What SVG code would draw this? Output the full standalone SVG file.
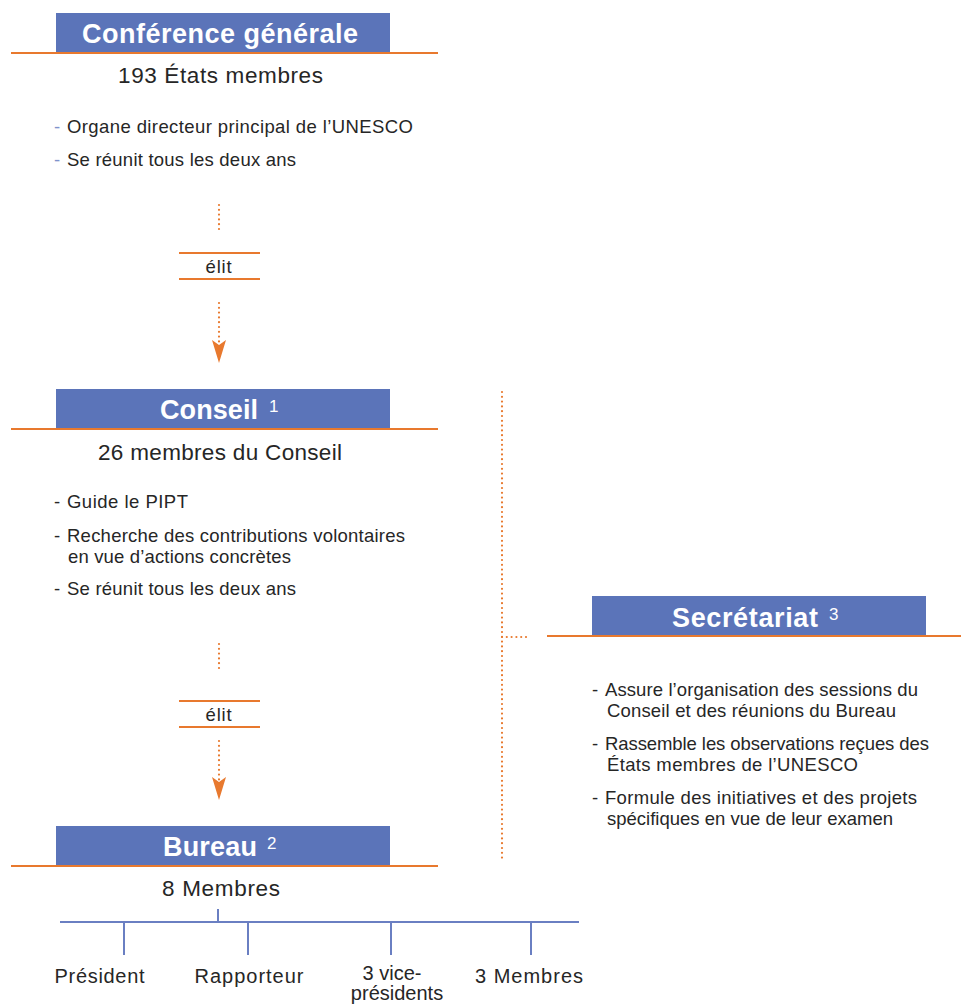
<svg xmlns="http://www.w3.org/2000/svg" width="961" height="1006" viewBox="0 0 961 1006">
<defs>
<style>
text{font-family:"Liberation Sans",Arial,sans-serif;fill:#262626}
.title{font-size:27px;font-weight:bold;fill:#fff}
.sup{font-size:17px;fill:#fff}
.sub{font-size:22.5px}
.body{font-size:18.5px}
.lbl{font-size:20px}
.dashb{font-size:18.5px;fill:#7f93cc}
.box{fill:#5B74B9}
.ol{stroke:#E8792E;stroke-width:2.2;fill:none}
.dot{stroke:#E8792E;stroke-width:2.2;stroke-dasharray:0 4.8;stroke-linecap:round;fill:none}
.bl{stroke:#6A7FC2;stroke-width:2;fill:none}
.ah{fill:#E8792E}
</style>
</defs>
<rect width="961" height="1006" fill="#fff"/>

<g id="conference">
<rect class="box" x="56" y="13" width="334" height="39"/>
<line class="ol" x1="11" y1="53" x2="438" y2="53"/>
<text class="title" x="82" y="43" textLength="276" lengthAdjust="spacing">Conférence générale</text>
<text class="sub" x="118" y="83" textLength="205" lengthAdjust="spacing">193 États membres</text>
<text class="dashb" x="54" y="133">-</text>
<text class="body" x="67" y="133" textLength="346" lengthAdjust="spacing">Organe directeur principal de l’UNESCO</text>
<text class="dashb" x="54" y="166">-</text>
<text class="body" x="67" y="166" textLength="229" lengthAdjust="spacing">Se réunit tous les deux ans</text>
</g>

<g id="conseil">
<rect class="box" x="56" y="389" width="334" height="39"/>
<line class="ol" x1="11" y1="429" x2="438" y2="429"/>
<text class="title" x="160" y="419" textLength="98" lengthAdjust="spacing">Conseil</text>
<text class="sup" x="269" y="412">1</text>
<text class="sub" x="98" y="460" textLength="244" lengthAdjust="spacing">26 membres du Conseil</text>
<text class="body" x="54" y="508">-</text>
<text class="body" x="67" y="508" textLength="121" lengthAdjust="spacing">Guide le PIPT</text>
<text class="body" x="54" y="542">-</text>
<text class="body" x="67" y="542" textLength="338" lengthAdjust="spacing">Recherche des contributions volontaires</text>
<text class="body" x="68" y="563" textLength="223" lengthAdjust="spacing">en vue d’actions concrètes</text>
<text class="body" x="54" y="595">-</text>
<text class="body" x="67" y="595" textLength="229" lengthAdjust="spacing">Se réunit tous les deux ans</text>
</g>

<g id="bureau">
<rect class="box" x="56" y="826" width="334" height="39"/>
<line class="ol" x1="11" y1="866" x2="438" y2="866"/>
<text class="title" x="163" y="856" textLength="94" lengthAdjust="spacing">Bureau</text>
<text class="sup" x="267" y="849">2</text>
<text class="sub" x="162" y="896" textLength="118" lengthAdjust="spacing">8 Membres</text>
</g>

<g id="bureau-members">
<line class="bl" x1="60" y1="922" x2="579" y2="922"/>
<line class="bl" x1="218" y1="909" x2="218" y2="922"/>
<line class="bl" x1="124" y1="922" x2="124" y2="955"/>
<line class="bl" x1="248" y1="922" x2="248" y2="955"/>
<line class="bl" x1="391" y1="922" x2="391" y2="955"/>
<line class="bl" x1="531" y1="922" x2="531" y2="955"/>
<text class="lbl" x="99.5" y="983" text-anchor="middle" textLength="90" lengthAdjust="spacing">Président</text>
<text class="lbl" x="249" y="983" text-anchor="middle" textLength="109" lengthAdjust="spacing">Rapporteur</text>
<text class="lbl" x="392" y="980" text-anchor="middle" font-size="19">3 vice-</text>
<text class="lbl" x="397" y="1000" text-anchor="middle" font-size="19">présidents</text>
<text class="lbl" x="529" y="983" text-anchor="middle" textLength="108" lengthAdjust="spacing">3 Membres</text>
</g>

<g id="secretariat">
<rect class="box" x="592" y="596" width="334" height="39"/>
<line class="ol" x1="547" y1="636" x2="961" y2="636"/>
<text class="title" x="672" y="627" textLength="146" lengthAdjust="spacing">Secrétariat</text>
<text class="sup" x="829" y="620">3</text>
<text class="body" x="592" y="696">-</text>
<text class="body" x="605" y="696" textLength="313" lengthAdjust="spacing">Assure l’organisation des sessions du</text>
<text class="body" x="607" y="717" textLength="289" lengthAdjust="spacing">Conseil et des réunions du Bureau</text>
<text class="body" x="592" y="750">-</text>
<text class="body" x="605" y="750" textLength="324" lengthAdjust="spacing">Rassemble les observations reçues des</text>
<text class="body" x="607" y="771" textLength="251" lengthAdjust="spacing">États membres de l’UNESCO</text>
<text class="body" x="592" y="804">-</text>
<text class="body" x="605" y="804" textLength="312" lengthAdjust="spacing">Formule des initiatives et des projets</text>
<text class="body" x="607" y="825" textLength="286" lengthAdjust="spacing">spécifiques en vue de leur examen</text>
</g>

<g id="connectors">
<line class="dot" x1="219" y1="205" x2="219" y2="233"/>
<line class="ol" x1="179" y1="253" x2="260" y2="253"/>
<line class="ol" x1="179" y1="279" x2="260" y2="279"/>
<text class="body" x="219" y="273" text-anchor="middle" letter-spacing="0.8">élit</text>
<line class="dot" x1="219" y1="303" x2="219" y2="342"/>
<path class="ah" d="M212,340 L219,363 L226,340 L219,345 Z"/>

<line class="dot" x1="219" y1="644" x2="219" y2="672"/>
<line class="ol" x1="179" y1="701" x2="260" y2="701"/>
<line class="ol" x1="179" y1="727" x2="260" y2="727"/>
<text class="body" x="219" y="721" text-anchor="middle" letter-spacing="0.8">élit</text>
<line class="dot" x1="219" y1="741" x2="219" y2="780"/>
<path class="ah" d="M212,777 L219,800 L226,777 L219,782 Z"/>

<line class="dot" x1="502" y1="392" x2="502" y2="862"/>
<line class="dot" x1="502" y1="637" x2="530" y2="637"/>
</g>
</svg>
